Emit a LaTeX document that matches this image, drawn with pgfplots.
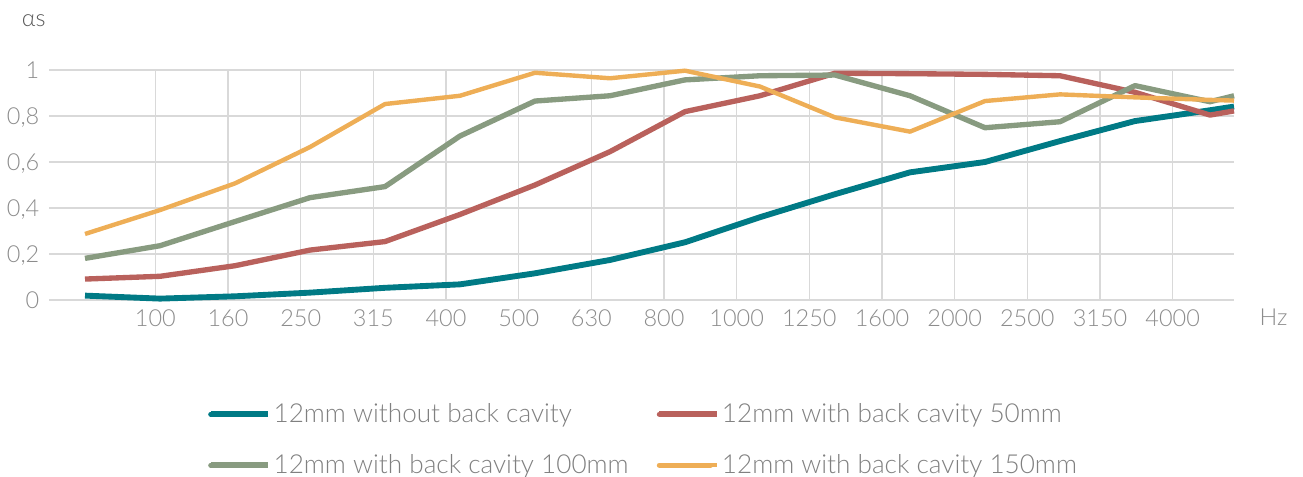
\documentclass[border=0pt]{standalone}
\usepackage{pgfplots}
\pgfplotsset{compat=1.18}
\usepackage{fontspec}
\setmainfont{Lato}[UprightFont=* Light]
\definecolor{cteal}{RGB}{0,122,133}
\definecolor{cred}{RGB}{185,97,92}
\definecolor{cgreen}{RGB}{136,155,128}
\definecolor{corange}{RGB}{238,174,86}
\definecolor{ctick}{RGB}{140,140,140}
\definecolor{clegend}{RGB}{128,128,128}
\definecolor{cgrid}{RGB}{217,217,217}
\begin{document}
\begin{tikzpicture}
\useasboundingbox (0,0) rectangle (977.25pt,357.75pt);
\begin{axis}[
  at={(36.98pt,132.75pt)}, anchor=south west,
  scale only axis, width=888.75pt, height=172.5pt,
  xmin=49.3, xmax=1234.3, ymin=0, ymax=1,
  clip=false,
  axis line style={draw=none},
  major tick length=0pt,
  xtick={155.3,228.0,300.7,373.3,446.0,518.7,591.3,664.0,736.7,809.3,882.0,954.7,1027.3,1100.0,1172.7},
  xticklabels={100,160,250,315,400,500,630,800,1000,1250,1600,2000,2500,3150,4000},
  ytick={0,0.2,0.4,0.6,0.8,1},
  yticklabels={0,{0,2},{0,4},{0,6},{0,8},1},
  grid=major,
  major grid style={draw=cgrid, line width=1pt},
  tick label style={font=\fontsize{17.6}{20}\selectfont, text=ctick, inner sep=0pt},
  xticklabel style={anchor=base, yshift=-19.6pt},
  yticklabel style={anchor=east, text depth=0pt, xshift=-7.3pt},
  legend columns=2,
  legend cell align=left,
  legend style={draw=none, fill=none, inner sep=0pt,
    at={(axis cs:207.5,-0.607)}, anchor=west,
    font=\fontsize{19.6}{22}\selectfont, text=clegend,
    row sep=18.5pt,
    /tikz/every even column/.append style={column sep=19pt}},
  legend image code/.code={\draw[#1, line cap=round, line width=3.75pt] (0pt,0pt) -- (38.5pt,0pt); \path (0pt,0pt) -- (43pt,0pt);},
  every axis plot/.append style={line join=round},
]
\addplot[cteal, line width=4.4pt] coordinates {
(85,0.019) (160,0.006) (235,0.016) (310,0.032) (385,0.053) (460,0.068) (535,0.116) (610,0.174) (685,0.251) (760,0.36) (835,0.46) (910,0.555) (985,0.60) (1060,0.691) (1135,0.778) (1210,0.825) (1234,0.841)};
\addlegendentry{12mm without back cavity}
\addplot[cred, line width=4pt] coordinates {
(85,0.091) (160,0.103) (235,0.149) (310,0.217) (385,0.254) (460,0.372) (535,0.50) (610,0.645) (685,0.819) (760,0.888) (835,0.986) (910,0.984) (985,0.981) (1060,0.975) (1135,0.903) (1210,0.804) (1234,0.822)};
\addlegendentry{12mm with back cavity 50mm}
\addplot[cgreen, line width=4pt] coordinates {
(85,0.181) (160,0.236) (235,0.341) (310,0.445) (385,0.493) (460,0.713) (535,0.865) (610,0.888) (685,0.957) (760,0.975) (835,0.978) (910,0.888) (985,0.749) (1060,0.775) (1135,0.932) (1210,0.862) (1234,0.888)};
\addlegendentry{12mm with back cavity 100mm}
\addplot[corange, line width=3.3pt] coordinates {
(85,0.287) (160,0.391) (235,0.507) (310,0.665) (385,0.852) (460,0.888) (535,0.988) (610,0.964) (685,0.997) (760,0.928) (835,0.794) (910,0.732) (985,0.865) (1060,0.894) (1135,0.881) (1210,0.870) (1234,0.867)};
\addlegendentry{12mm with back cavity 150mm}
\node[anchor=base west, inner sep=0pt, font=\fontsize{17.6}{20}\selectfont, text=ctick] at (axis cs:1259.3,-0.109) {Hz};
\node[anchor=base west, inner sep=0pt, font=\fontsize{17.6}{20}\selectfont, text={rgb,255:red,89;green,89;blue,89}] at (axis cs:21.7,1.188) {αs};
\end{axis}
\end{tikzpicture}
\end{document}
